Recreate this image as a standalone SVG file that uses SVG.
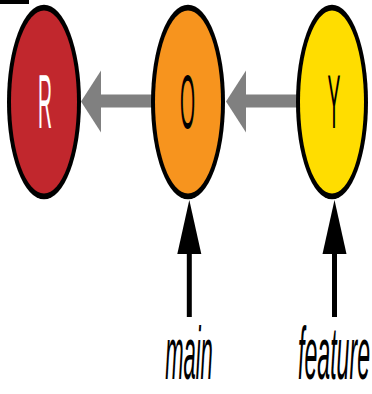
<svg xmlns="http://www.w3.org/2000/svg" width="372" height="394" viewBox="0 0 372 394">
  <style>
    .rim { fill: #000; }
    .lbl { font-family: "Liberation Sans", Arial, sans-serif; font-size: 22px; text-anchor: middle; }
    .ptr { font-family: "Liberation Sans", Arial, sans-serif; font-size: 22px; font-style: italic; text-anchor: middle; fill: #000; }
    .gshaft { fill: #808080; }
    .bshaft { stroke: #000; stroke-width: 5; }
  </style>
  <rect x="0" y="0" width="29" height="4" fill="#000"/>
  <g id="connectors">
    <rect class="gshaft" x="99" y="94.5" width="56" height="13"/>
    <polygon class="gshaft" points="81,101.5 101,70.5 101,132.5"/>
    <rect class="gshaft" x="245" y="94.5" width="55" height="13"/>
    <polygon class="gshaft" points="226,101.5 246,70.5 246,132.5"/>
    <line class="bshaft" x1="189.3" y1="317" x2="189.3" y2="252"/>
    <polygon points="189.3,200 177.3,254 201.3,254" fill="#000"/>
    <line class="bshaft" x1="334.5" y1="317" x2="334.5" y2="252"/>
    <polygon points="334.5,200 322.5,254 346.5,254" fill="#000"/>
  </g>
  <g id="node-R">
    <ellipse class="rim" cx="44" cy="102" rx="37" ry="97.3"/>
    <ellipse cx="44" cy="102" rx="33" ry="91.5" fill="#C1272D"/>
    <text class="lbl" fill="#fff" transform="translate(45,128) scale(0.88,3.43)">R</text>
  </g>
  <g id="node-O">
    <ellipse class="rim" cx="188" cy="102" rx="37" ry="97.3"/>
    <ellipse cx="188" cy="102" rx="33" ry="91.5" fill="#F7941E"/>
    <text class="lbl" fill="#000" transform="translate(187.5,128) scale(0.88,3.43)">O</text>
  </g>
  <g id="node-Y">
    <ellipse class="rim" cx="332" cy="102" rx="36" ry="97.3"/>
    <ellipse cx="332" cy="102" rx="32" ry="91.5" fill="#FFDD00"/>
    <text class="lbl" fill="#000" transform="translate(334,128) scale(0.88,3.43)">Y</text>
  </g>
  <g id="label-main">
    <text class="ptr" transform="translate(189,378.5) scale(1,3.4)">main</text>
  </g>
  <g id="label-feature">
    <text class="ptr" transform="translate(334,378.5) scale(1,3.4)" textLength="72" lengthAdjust="spacingAndGlyphs">feature</text>
  </g>
</svg>
